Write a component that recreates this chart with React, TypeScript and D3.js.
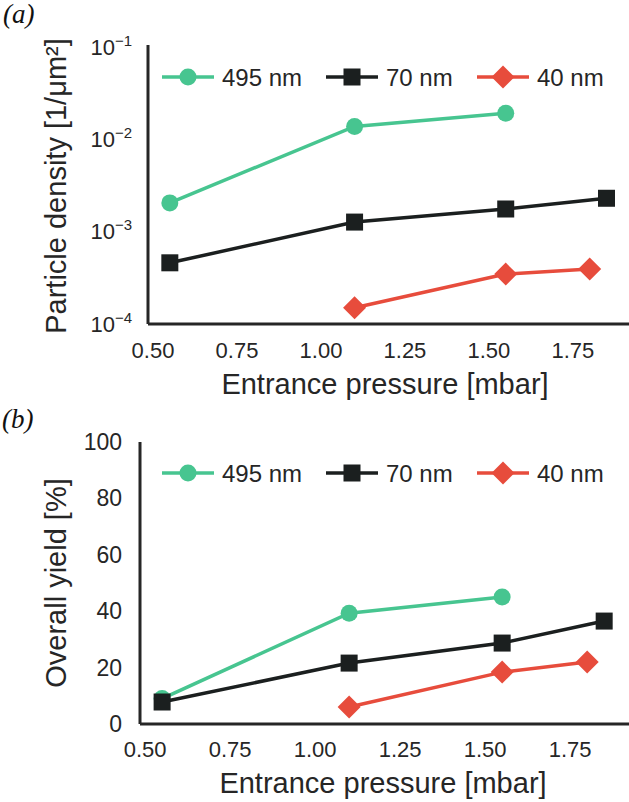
import React from "react";
import * as d3 from "d3";

const seriesNames = ["495 nm", "70 nm", "40 nm"];
const seriesColors = ["#47c590", "#1b1f1f", "#e74c3c"];
const seriesMarkers = ["circle", "square", "diamond"];

const pressure495 = [0.55, 1.1, 1.55];
const density495 = [2.05e-3, 1.38e-2, 1.92e-2];
const yield495 = [9, 39.3, 45];

const pressure70 = [0.55, 1.1, 1.55, 1.85];
const density70 = [4.6e-4, 1.27e-3, 1.76e-3, 2.3e-3];
const yield70 = [7.8, 21.6, 28.7, 36.5];

const pressure40 = [1.1, 1.55, 1.8];
const density40 = [1.5e-4, 3.47e-4, 3.94e-4];
const yield40 = [6, 18.4, 22];

const xTicks = [0.5, 0.75, 1.0, 1.25, 1.5, 1.75];
const densityTicks = [1e-4, 1e-3, 1e-2, 1e-1];
const yieldTicks = [0, 20, 40, 60, 80, 100];

const FONT = "'Liberation Sans', Arial, Helvetica, sans-serif";
const TEXT = "#262626";

type Pt = { x: number; y: number };

function Marker({ kind, x, y, color }: { kind: string; x: number; y: number; color: string }) {
  if (kind === "circle") return <circle cx={x} cy={y} r={8.5} fill={color} />;
  if (kind === "square") return <rect x={x - 8.5} y={y - 8.5} width={17} height={17} fill={color} />;
  const s = 11.5;
  return <path d={`M${x},${y - s}L${x + s},${y}L${x},${y + s}L${x - s},${y}Z`} fill={color} />;
}

function Panel({
  xs,
  ys,
  xScale,
  yScale,
  axisX,
  axisTop,
  axisBottom,
}: {
  xs: number[][];
  ys: number[][];
  xScale: any;
  yScale: any;
  axisX: number;
  axisTop: number;
  axisBottom: number;
}) {
  const line = d3
    .line<Pt>()
    .x((d) => xScale(d.x))
    .y((d) => yScale(d.y));
  return (
    <g>
      <line x1={axisX} x2={axisX} y1={axisTop} y2={axisBottom} stroke={TEXT} strokeWidth={3} />
      <line x1={axisX} x2={629} y1={axisBottom} y2={axisBottom} stroke={TEXT} strokeWidth={3} />
      {xs.map((xv, i) => {
        const pts = xv.map((x, j) => ({ x, y: ys[i][j] }));
        return (
          <g key={i}>
            <path d={line(pts) || ""} fill="none" stroke={seriesColors[i]} strokeWidth={3.5} />
            {pts.map((p, j) => (
              <Marker key={j} kind={seriesMarkers[i]} x={xScale(p.x)} y={yScale(p.y)} color={seriesColors[i]} />
            ))}
          </g>
        );
      })}
    </g>
  );
}

function Legend({ y }: { y: number }) {
  const starts = [162, 326, 477];
  return (
    <g>
      {seriesNames.map((n, i) => (
        <g key={n}>
          <line x1={starts[i]} x2={starts[i] + 52} y1={y} y2={y} stroke={seriesColors[i]} strokeWidth={3.5} />
          <Marker kind={seriesMarkers[i]} x={starts[i] + 26} y={y} color={seriesColors[i]} />
          <text x={starts[i] + 60} y={y + 8.5} fontSize={24} fill={TEXT} fontFamily={FONT}>
            {n}
          </text>
        </g>
      ))}
    </g>
  );
}

export default function App() {
  const xA = d3.scaleLinear().domain([0.485, 1.917]).range([148, 629]);
  const yA = d3.scaleLog().domain([1e-4, 1e-1]).range([324, 47]);
  const xB = d3.scaleLinear().domain([0.485, 1.923]).range([140, 629]);
  const yB = d3.scaleLinear().domain([0, 100]).range([724, 442]);

  const xsAll = [pressure495, pressure70, pressure40];

  return (
    <svg
      width={629}
      height={802}
      style={{ position: "absolute", left: 0, top: 0, background: "#fff" }}
      fontFamily={FONT}
    >
      <rect width={629} height={802} fill="#fff" />
      {/* Panel (a) */}
      <text x={3} y={23} fontSize={27} fontStyle="italic" fontFamily="'Liberation Serif', 'Times New Roman', serif" fill="#111">
        (a)
      </text>
      <Panel
        xs={xsAll}
        ys={[density495, density70, density40]}
        xScale={xA}
        yScale={yA}
        axisX={148}
        axisTop={45}
        axisBottom={324}
      />
      {densityTicks.map((t) => (
        <text key={t} x={132} y={yA(t) + 7.5} textAnchor="end" fontSize={22} fill={TEXT}>
          10
          <tspan dy={-9} fontSize={15}>
            {"\u2212" + Math.round(-Math.log10(t))}
          </tspan>
        </text>
      ))}
      {xTicks.map((t) => (
        <text key={t} x={xA(t)} y={358} textAnchor="middle" fontSize={22} fill={TEXT}>
          {d3.format(".2f")(t)}
        </text>
      ))}
      <text x={385} y={394} textAnchor="middle" fontSize={29} fill={TEXT}>
        Entrance pressure [mbar]
      </text>
      <text transform={`translate(66,${186}) rotate(-90)`} textAnchor="middle" fontSize={29} fill={TEXT}>
        Particle density [1/μm²]
      </text>
      <Legend y={77} />

      {/* Panel (b) */}
      <text x={2} y={428} fontSize={27} fontStyle="italic" fontFamily="'Liberation Serif', 'Times New Roman', serif" fill="#111">
        (b)
      </text>
      <Panel
        xs={xsAll}
        ys={[yield495, yield70, yield40]}
        xScale={xB}
        yScale={yB}
        axisX={140}
        axisTop={442}
        axisBottom={724}
      />
      {yieldTicks.map((t) => (
        <text key={t} x={122} y={yB(t) + 8} textAnchor="end" fontSize={23} fill={TEXT}>
          {t}
        </text>
      ))}
      {xTicks.map((t) => (
        <text key={t} x={xB(t)} y={757} textAnchor="middle" fontSize={22} fill={TEXT}>
          {d3.format(".2f")(t)}
        </text>
      ))}
      <text x={383} y={793} textAnchor="middle" fontSize={29} fill={TEXT}>
        Entrance pressure [mbar]
      </text>
      <text transform={`translate(66,${583}) rotate(-90)`} textAnchor="middle" fontSize={29} fill={TEXT}>
        Overall yield [%]
      </text>
      <Legend y={473} />
    </svg>
  );
}
